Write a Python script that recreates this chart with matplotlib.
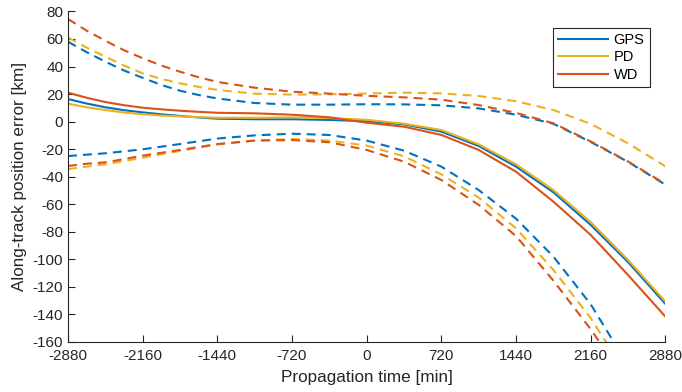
import matplotlib
matplotlib.use("Agg")
import matplotlib.pyplot as plt

plt.rcParams['font.family'] = ['Liberation Sans', 'DejaVu Sans']

# Propagation time [min]
time_min = [-2880, -2700, -2520, -2340, -2160, -1980, -1800, -1620, -1440,
            -1080, -720, -360, 0, 360, 720, 1080, 1440, 1800, 2160, 2520, 2880]

# Mean along-track error [km]
gps_mean = [16.4, 13.1, 10.4, 8.3, 6.7, 5.3, 4.1, 3.0, 2.1,
            1.7, 1.7, 1.2, 0.3, -2.0, -7.3, -17.7, -32.7, -51.3, -75.0, -102.0, -132.4]
pd_mean = [13.0, 10.4, 8.4, 6.6, 5.3, 4.4, 3.8, 3.25, 2.8,
           2.8, 3.1, 2.6, 1.3, -1.5, -6.1, -16.5, -31.0, -49.7, -73.0, -100.5, -130.7]
wd_mean = [21.0, 17.3, 14.2, 11.9, 10.1, 8.9, 7.9, 7.1, 6.4,
           6.0, 5.0, 3.1, -0.8, -3.7, -9.7, -20.6, -36.4, -58.1, -82.3, -111.4, -141.6]

# Upper bounds [km]
gps_upper = [58.0, 50.4, 43.5, 37.1, 31.8, 26.6, 22.4, 19.3, 16.8,
             13.5, 12.3, 12.3, 12.6, 12.5, 11.8, 9.6, 5.0, -1.6, -14.8, -29.3, -45.8]
pd_upper = [61.0, 53.7, 47.1, 40.7, 35.0, 31.0, 27.8, 25.2, 23.0,
            20.3, 19.6, 19.8, 20.4, 21.0, 20.5, 18.6, 14.8, 8.4, -1.7, -15.8, -32.5]
wd_upper = [74.5, 66.0, 58.7, 51.8, 46.0, 40.7, 36.2, 32.2, 28.8,
            24.6, 21.7, 20.3, 18.7, 17.6, 15.9, 12.0, 6.3, -1.2, -14.4, -29.0, -45.3]

# Lower bounds [km]
gps_lower = [-25.0, -24.0, -23.0, -21.6, -20.1, -18.2, -16.3, -14.3, -12.3,
             -10.0, -8.8, -9.7, -13.8, -21.1, -32.7, -49.7, -70.5, -98.0, -132.7, -177.0]
pd_lower = [-34.5, -32.7, -31.0, -28.7, -26.2, -23.75, -21.3, -18.95, -16.6,
            -13.8, -12.6, -13.8, -17.4, -25.2, -38.3, -55.2, -77.5, -107.7, -142.7, -185.0]
wd_lower = [-32.2, -30.6, -29.6, -27.2, -24.7, -22.65, -20.6, -18.45, -16.3,
            -13.8, -13.4, -15.0, -20.6, -29.1, -42.4, -60.5, -83.1, -115.5, -150.8, -190.0]

labels = ['GPS', 'PD', 'WD']
colors = ['#0072BD', '#EDB120', '#D95319']

x_ticks = [-2880, -2160, -1440, -720, 0, 720, 1440, 2160, 2880]
y_ticks = list(range(-160, 81, 20))

fig = plt.figure(figsize=(6.82, 3.92), dpi=100)
ax = fig.add_axes([0.0997, 0.1276, 0.9757 - 0.0997, 0.9709 - 0.1276])

dash = (4.3, 2.9)
for up, col in zip([gps_upper, pd_upper, wd_upper], colors):
    ax.plot(time_min, up, color=col, lw=1.5, dashes=dash)
for lo, col in zip([gps_lower, pd_lower, wd_lower], colors):
    ax.plot(time_min[:len(lo)], lo, color=col, lw=1.5, dashes=dash)
handles = []
for m, col, lab in zip([gps_mean, pd_mean, wd_mean], colors, labels):
    h, = ax.plot(time_min, m, color=col, lw=1.5, label=lab)
    handles.append(h)

ax.set_xlim(-2880, 2880)
ax.set_ylim(-160, 80)
ax.set_xticks(x_ticks)
ax.set_yticks(y_ticks)
ax.set_xticklabels([str(v) for v in x_ticks])
ax.set_yticklabels([str(v) for v in y_ticks])

axcol = '#262626'
for s in ['top', 'right']:
    ax.spines[s].set_visible(False)
for s in ['left', 'bottom']:
    ax.spines[s].set_color(axcol)
    ax.spines[s].set_linewidth(0.8)
ax.tick_params(direction='in', length=5, width=0.8, colors=axcol,
               labelsize=11, labelcolor=axcol)
ax.tick_params(axis='x', pad=5)
ax.set_xlabel('Propagation time [min]', fontsize=12.3, color=axcol, labelpad=5)
ax.set_ylabel('Along-track position error [km]', fontsize=12.3, color=axcol, labelpad=4)

leg = ax.legend(handles=handles, loc='upper right',
                bbox_to_anchor=(649.5 / 682, 1 - 27.5 / 392),
                bbox_transform=fig.transFigure, borderaxespad=0,
                fancybox=False, framealpha=1, edgecolor=axcol,
                fontsize=10.5, handlelength=3.4, handletextpad=0.4,
                labelspacing=0.25, borderpad=0.35)
leg.get_frame().set_linewidth(0.8)

fig.savefig('out.png', dpi=100)
